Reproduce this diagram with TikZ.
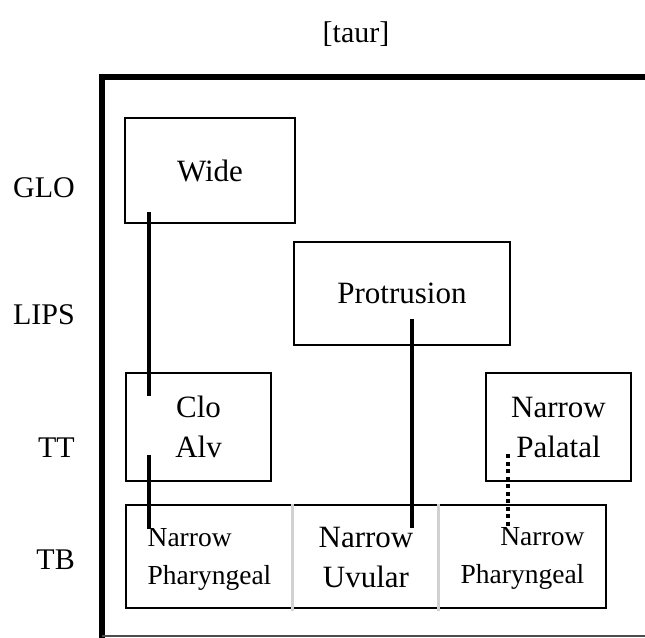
\documentclass[tikz,border=0pt]{standalone}
\usepackage{fontspec}
\setmainfont{Liberation Serif}
\begin{document}
\begin{tikzpicture}[x=1pt,y=-1pt,
  box/.style={draw,line width=2pt,inner sep=0pt,align=center,font=\fontsize{31}{40}\selectfont},
  cell/.style={inner sep=0pt,font=\fontsize{27.5}{38}\selectfont},
  bigcell/.style={inner sep=0pt,align=center,font=\fontsize{31}{40}\selectfont},
  conn/.style={line width=4.5pt},
  dotconn/.style={line width=4pt,dash pattern=on 4pt off 3.5pt},
  sep/.style={draw=black!18,line width=3pt},
  lab/.style={anchor=base east,inner sep=0pt,font=\fontsize{30}{36}\selectfont}]
\useasboundingbox (0,0) rectangle (645,637);
\clip (0,0) rectangle (645,637);
% title
\node[anchor=base,inner sep=0pt,font=\fontsize{30}{36}\selectfont] (title) at (356,42) {[taur]};
% frame
\draw[line width=6pt] (102,640) -- (102,77) -- (660,77);
\draw[line width=1.5pt,black!70] (102,636) -- (660,636);
% tier labels
\node[lab] (glo) at (75,197) {GLO};
\node[lab] (lips) at (75,324) {LIPS};
\node[lab] (tt) at (75,457) {TT};
\node[lab] (tbl) at (75,569) {TB};
% gesture boxes
\node[box,minimum width=170pt,minimum height=105pt] (wide) at (210,170.5) {Wide};
\node[box,minimum width=216pt,minimum height=103pt] (prot) at (402,293.5) {Protrusion};
\node[box,minimum width=145pt,minimum height=108pt] (clo) at (198.5,427) {Clo\\Alv};
\node[box,minimum width=145pt,minimum height=108pt] (pal) at (558.5,427) {Narrow\\Palatal};
\node[draw,line width=2pt,minimum width=480pt,minimum height=103pt,inner sep=0pt] (tb) at (366,556.5) {};
\node[cell,align=left] (tbleft) at (209.5,559) {Narrow\\Pharyngeal};
\node[bigcell] (tbmid) at (366,557.5) {Narrow\\Uvular};
\node[cell,align=right] (tbright) at (522.5,558) {Narrow\\Pharyngeal};
% separators
\draw[sep] ([xshift=167pt]tb.north west) -- ([xshift=167pt,yshift=-2pt]tb.south west);
\draw[sep] ([xshift=313pt]tb.north west) -- ([xshift=313pt,yshift=-2pt]tb.south west);
% connectors
\draw[conn] ([xshift=25pt,yshift=12pt]wide.south west) -- ([xshift=24pt,yshift=-24pt]clo.north west);
\draw[conn] ([xshift=24pt,yshift=27pt]clo.south west) -- ([xshift=24pt,yshift=-25pt]tb.north west);
\draw[conn] ([xshift=119pt,yshift=27pt]prot.south west) -- ([xshift=287pt,yshift=-24pt]tb.north west);
\draw[dotconn] ([xshift=23pt,yshift=28pt]pal.south west) -- ([xshift=383pt,yshift=-25pt]tb.north west);
\end{tikzpicture}
\end{document}
